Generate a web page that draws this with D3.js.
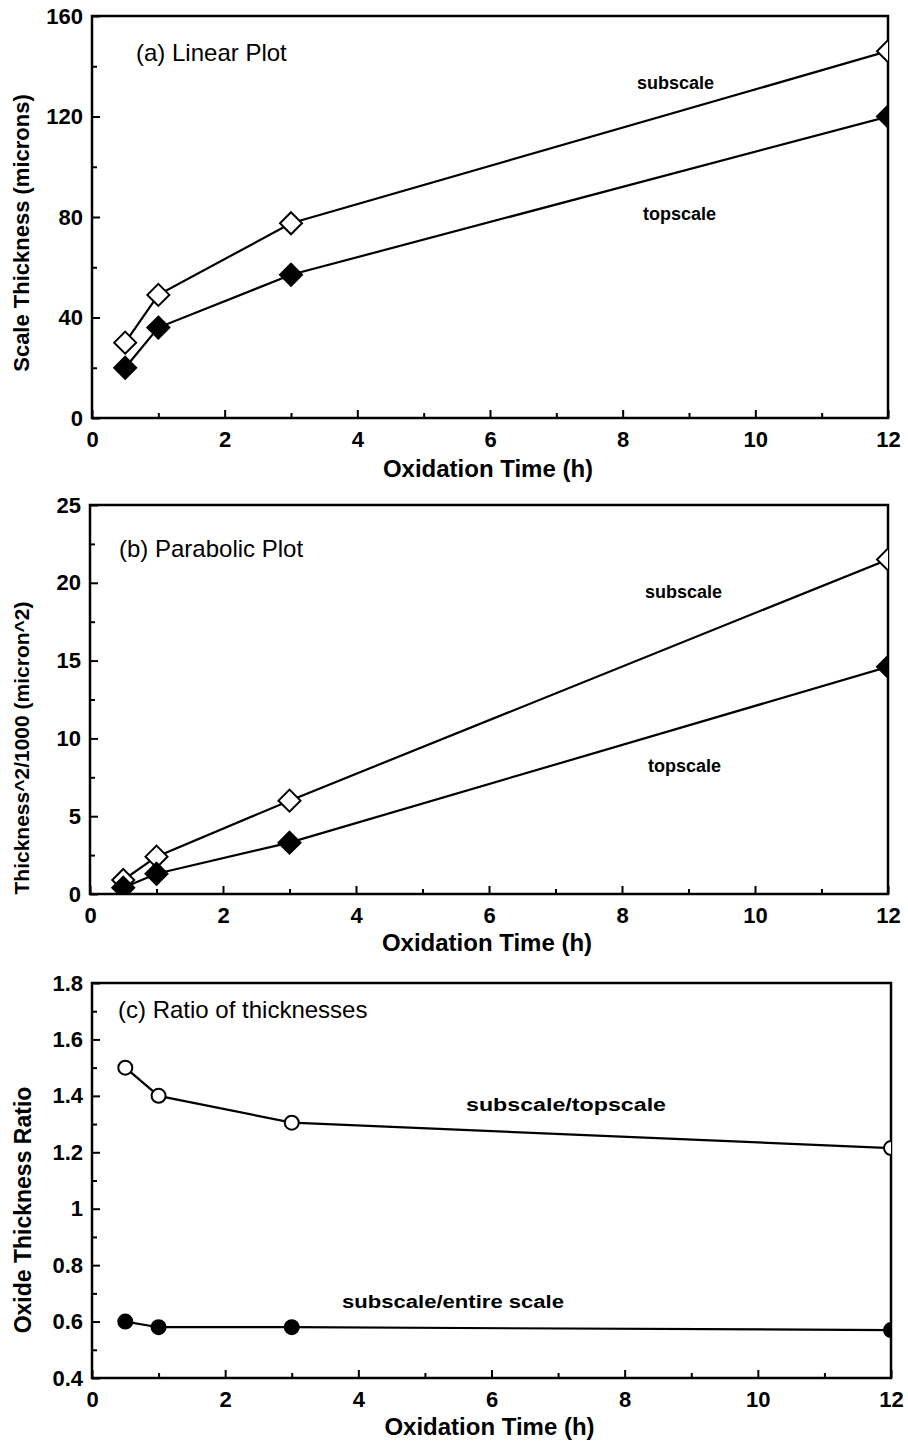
<!DOCTYPE html>
<html><head><meta charset="utf-8">
<script src="https://cdn.jsdelivr.net/npm/d3@7"></script>
<style>body{margin:0;background:#fff}svg{display:block}text{font-family:"Liberation Sans",Arial,sans-serif;fill:#000}</style>
</head><body><div id="c"></div>
<script>
// ---- data ----
const times = [0.5, 1, 3, 12];
const linSub = [30, 49, 77.5, 146];
const linTop = [20, 36, 57, 120];
const parSub = [0.9, 2.4, 6.0, 21.5];
const parTop = [0.4, 1.3, 3.3, 14.6];
const ratioSubTop = [1.5, 1.4, 1.305, 1.215];
const ratioSubEntire = [0.6, 0.58, 0.58, 0.57];
const xTicks = [0, 2, 4, 6, 8, 10, 12];
const yTicksA = [0, 40, 80, 120, 160];
const yTicksB = [0, 5, 10, 15, 20, 25];
const yTicksC = [0.4, 0.6, 0.8, 1, 1.2, 1.4, 1.6, 1.8];

const W = 908, H = 1443;
const svg = d3.select("#c").append("svg").attr("width", W).attr("height", H);

function panel(cfg) {
  const x = d3.scaleLinear().domain([0, 12]).range([cfg.l, cfg.r]);
  const y = d3.scaleLinear().domain(cfg.yDom).range([cfg.b, cfg.t]);
  const g = svg.append("g");
  const id = "clip" + cfg.name;
  svg.append("clipPath").attr("id", id).append("rect")
    .attr("x", cfg.l).attr("y", cfg.t).attr("width", cfg.r - cfg.l).attr("height", cfg.b - cfg.t);

  const xAxis = d3.axisBottom(x).tickValues(xTicks).tickSize(-8).tickPadding(13).tickFormat(d3.format("d"));
  const xMinor = d3.axisBottom(x).tickValues(d3.range(1, 12, 2)).tickSize(-5).tickFormat("");
  const yAxis = d3.axisLeft(y).tickValues(cfg.yTicks).tickSize(-8).tickPadding(9).tickFormat(cfg.fmt);
  const yMinor = d3.axisLeft(y).tickValues(cfg.yMinor).tickSize(-5).tickFormat("");
  [[xAxis, "translate(0," + cfg.b + ")"], [xMinor, "translate(0," + cfg.b + ")"],
   [yAxis, "translate(" + cfg.l + ",0)"], [yMinor, "translate(" + cfg.l + ",0)"]].forEach(([ax, tr]) => {
    const a = g.append("g").attr("transform", tr).call(ax);
    a.select(".domain").remove();
    a.selectAll("line").attr("stroke", "#000").attr("stroke-width", 2);
    a.selectAll("text").style("font-size", "22px").style("font-weight", "bold")
      .style("font-family", '"Liberation Sans",Arial,sans-serif').attr("fill", "#000");
  });
  g.append("rect").attr("x", cfg.l).attr("y", cfg.t).attr("width", cfg.r - cfg.l).attr("height", cfg.b - cfg.t)
    .attr("fill", "none").attr("stroke", "#000").attr("stroke-width", 2.5);

  const line = d3.line().x(d => x(d[0])).y(d => y(d[1]));
  const pg = g.append("g").attr("clip-path", "url(#" + id + ")");
  cfg.series.forEach(s => {
    const pts = times.map((t, i) => [t, s.vals[i]]);
    pg.append("path").attr("d", line(pts)).attr("fill", "none").attr("stroke", "#000").attr("stroke-width", 2.2);
    pts.forEach(p => {
      let sym;
      if (s.shape === "diamond") {
        const r = 11;
        sym = pg.append("path").attr("d", `M0,${-r}L${r},0L0,${r}L${-r},0Z`);
      } else {
        sym = pg.append("circle").attr("r", 7);
      }
      sym.attr("transform", `translate(${x(p[0])},${y(p[1])})`)
        .attr("fill", s.filled ? "#000" : "#fff").attr("stroke", "#000").attr("stroke-width", 2);
    });
  });

  g.append("text").attr("x", cfg.titlePos[0]).attr("y", cfg.titlePos[1]).style("font-size", "24px").text(cfg.title);
  cfg.labels.forEach(lb => {
    const t = g.append("text").attr("x", lb[1]).attr("y", lb[2]).style("font-size", "18px").style("font-weight", "bold").text(lb[0]);
    if (lb[3]) t.attr("textLength", lb[3]).attr("lengthAdjust", "spacingAndGlyphs");
  });
  g.append("text").attr("x", (cfg.l + cfg.r) / 2 - 2).attr("y", cfg.xLabY).attr("text-anchor", "middle")
    .style("font-size", "24px").style("font-weight", "bold").text("Oxidation Time (h)");
  g.append("text").attr("transform", `translate(${cfg.yLabPos[0]},${cfg.yLabPos[1]}) rotate(-90)`)
    .attr("text-anchor", "middle").style("font-size", cfg.yLabSize || "21px").style("font-weight", "bold").text(cfg.yLabel);
}

panel({name: "a", l: 92, r: 888, t: 16, b: 418, yDom: [0, 160], yTicks: yTicksA, yMinor: [20, 60, 100, 140],
  fmt: d3.format("d"), title: "(a) Linear Plot", titlePos: [136, 61],
  labels: [["subscale", 637, 89], ["topscale", 643, 220]],
  xLabY: 477, yLabPos: [29, 233], yLabel: "Scale Thickness (microns)", yLabSize: "22px",
  series: [{vals: linSub, shape: "diamond", filled: false}, {vals: linTop, shape: "diamond", filled: true}]});

panel({name: "b", l: 90, r: 888, t: 505, b: 894, yDom: [0, 25], yTicks: yTicksB, yMinor: [2.5, 7.5, 12.5, 17.5, 22.5],
  fmt: d3.format("d"), title: "(b) Parabolic Plot", titlePos: [119, 557],
  labels: [["subscale", 645, 598], ["topscale", 648, 772]],
  xLabY: 951, yLabPos: [29, 748], yLabel: "Thickness^2/1000  (micron^2)",
  series: [{vals: parSub, shape: "diamond", filled: false}, {vals: parTop, shape: "diamond", filled: true}]});

panel({name: "c", l: 92, r: 891, t: 983, b: 1378, yDom: [0.4, 1.8], yTicks: yTicksC, yMinor: [0.5, 0.7, 0.9, 1.1, 1.3, 1.5, 1.7],
  fmt: d => d === 1 ? "1" : d3.format(".1f")(d), title: "(c) Ratio of thicknesses", titlePos: [118, 1018],
  labels: [["subscale/topscale", 466, 1111, 200], ["subscale/entire scale", 342, 1308, 222]],
  xLabY: 1435, yLabPos: [31, 1210], yLabel: "Oxide Thickness Ratio", yLabSize: "23px",
  series: [{vals: ratioSubTop, shape: "circle", filled: false}, {vals: ratioSubEntire, shape: "circle", filled: true}]});
</script></body></html>
